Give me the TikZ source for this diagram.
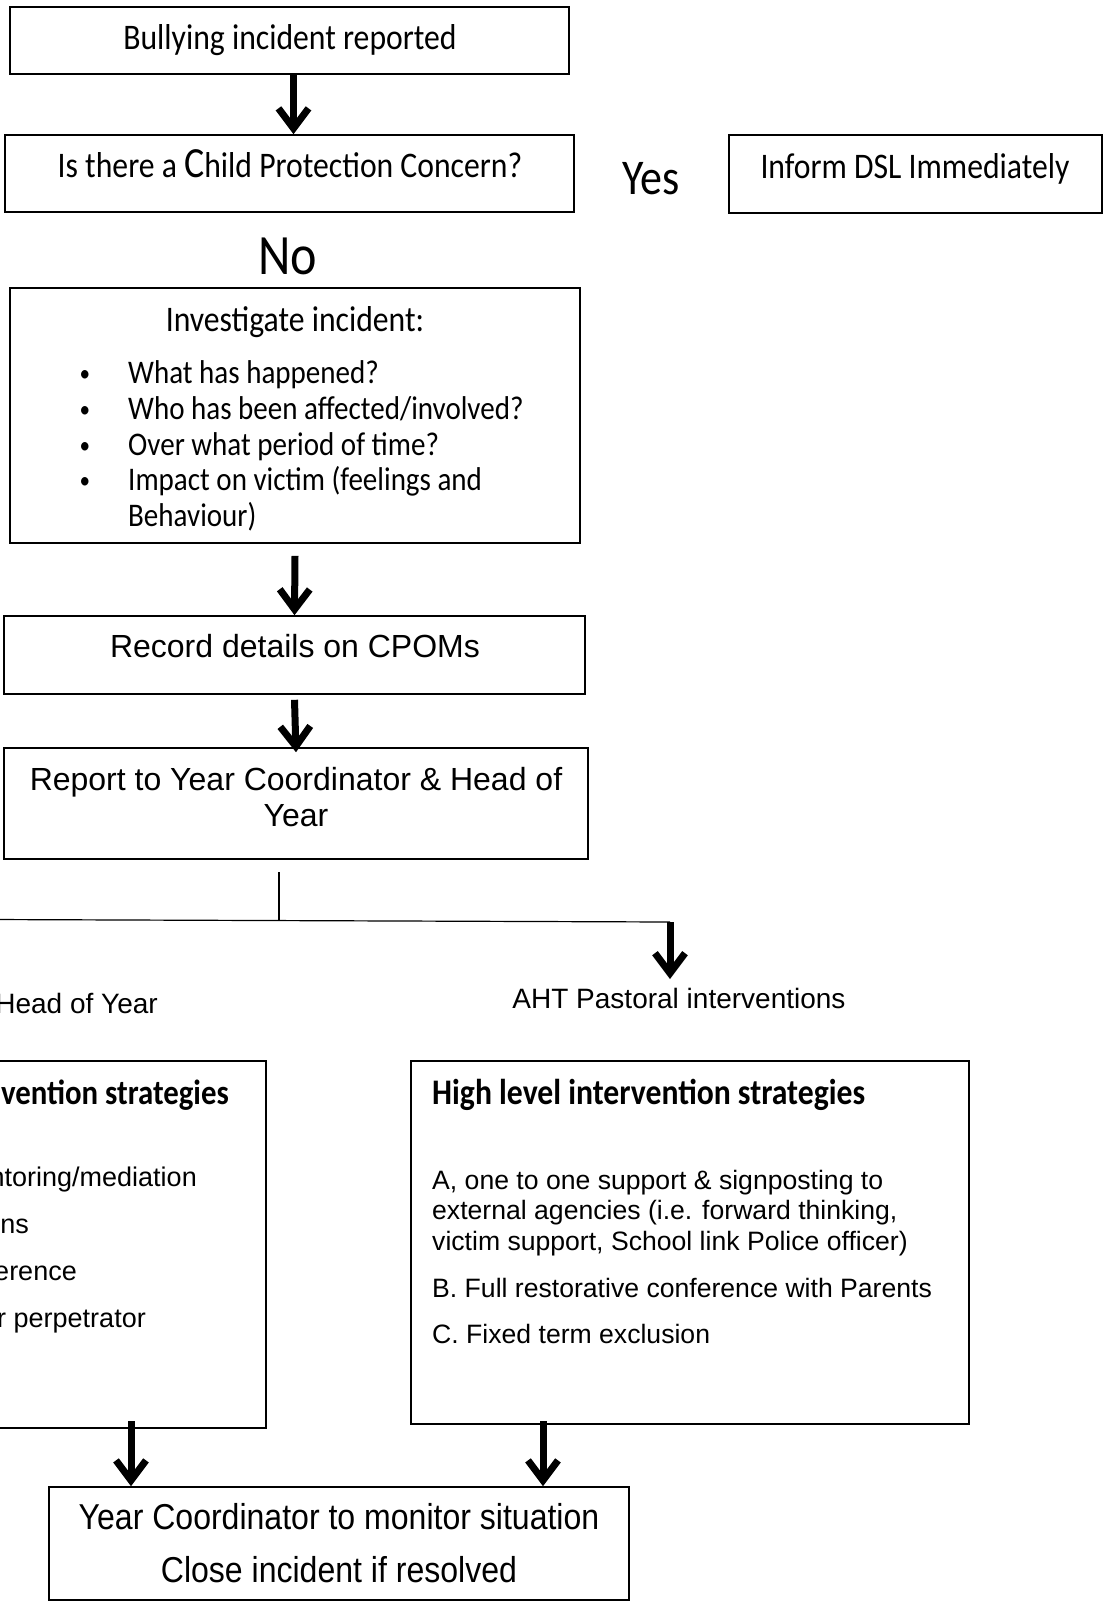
\documentclass[tikz,border=0pt]{standalone}
\usepackage{fontspec}
\usetikzlibrary{arrows.meta,calc}
\newfontfamily\calfont[FakeStretch=0.88]{Carlito}
\newfontfamily\ari{Liberation Sans}
\newfontfamily\arin[FakeStretch=0.89]{Liberation Sans}
\newcommand\fsz[1]{\fontsize{#1}{#1}\selectfont}
\tikzset{
  box/.style={draw=black, line width=1.6pt, rectangle, inner sep=0pt},
  bigarrow/.style={line width=7pt, -{Straight Barb[length=20pt,width=30pt]}},
  branchline/.style={line width=1.2pt, draw=black},
  txt/.style={inner sep=0pt},
}
\begin{document}
\begin{tikzpicture}[x=1pt,y=-1pt]
\useasboundingbox (0,0) rectangle (1109,1603);
\clip (0,0) rectangle (1109,1603);
\fill[white] (0,0) rectangle (1109,1603);

% top boxes
\node[box, minimum width=559pt, minimum height=67pt] (b1) at (289.5,40.5) {};
\node[txt, anchor=base, font=\calfont\fsz{36}] (t1) at (290,50) {Bullying incident reported};
\node[box, minimum width=569pt, minimum height=77pt] (b2) at (289.5,173.5) {};
\node[txt, anchor=base, font=\calfont\fsz{36}] (t2) at (290,177.6) {Is there a {\fsz{43}C}hild Protection Concern?};
\node[txt, anchor=base, font=\calfont\fsz{50}] (yes) at (651,194) {Yes};
\node[box, line width=1.2pt, minimum width=373pt, minimum height=78pt] (b3) at (915.5,174) {};
\node[txt, anchor=base, font=\calfont\fsz{36}] (t3) at (915,178.6) {Inform DSL Immediately};
\node[txt, anchor=base, font=\calfont\fsz{57}] (no) at (288,274.5) {No};
\draw[bigarrow] ([xshift=4pt]b1.south) -- ([xshift=4pt]b1.south |- b2.north);

% investigate
\node[box, minimum width=570pt, minimum height=255pt] (b4) at (295,415.5) {};
\node[txt, anchor=base, font=\calfont\fsz{36}] (t4) at (295,331) {Investigate incident:};
\foreach \yy in {381,417,453,488} {
  \node[txt, anchor=base, font=\calfont\fsz{24}] at (85,\yy) {•};
}
\node[txt, anchor=base west, font=\calfont\fsz{33}] (i1) at (128,383) {What has happened?};
\node[txt, anchor=base west, font=\calfont\fsz{33}] (i2) at (128,419) {Who has been affected/involved?};
\node[txt, anchor=base west, font=\calfont\fsz{33}] (i3) at (128,455) {Over what period of time?};
\node[txt, anchor=base west, font=\calfont\fsz{33}] (i4) at (128,490) {Impact on victim (feelings and};
\node[txt, anchor=base west, font=\calfont\fsz{33}] (i5) at (128,526) {Behaviour)};

% record
\node[box, minimum width=581pt, minimum height=78pt] (b5) at (294.5,655) {};
\node[txt, anchor=base, font=\ari\fsz{32}] (t5) at (295,657.5) {Record details on CPOMs};
\draw[bigarrow] ([yshift=-12pt]b4.south) -- (b5.north);

% report
\node[box, minimum width=584pt, minimum height=111pt] (b6) at (296,803.5) {};
\node[txt, anchor=base, font=\ari\fsz{32}] (t6a) at (296,790.5) {Report to Year Coordinator \& Head of};
\node[txt, anchor=base, font=\ari\fsz{32}] (t6b) at (296,826.5) {Year};
\draw[bigarrow] ([yshift=-5pt]b5.south) -- ([yshift=-5pt]b6.north);

% branch
\coordinate (vtop) at (279,872);
\coordinate (fork) at (279,921);
\coordinate (lend) at (-10,919.5);
\coordinate (rend) at (670,922);
\coordinate (ahttip) at (670,979);
\draw[branchline] (vtop) -- (fork);
\draw[branchline] (lend) -- (rend);
\draw[bigarrow] (rend) -- (ahttip);
\node[txt, anchor=base, font=\ari\fsz{28}] (aht) at (679,1008) {AHT Pastoral interventions};
\node[txt, anchor=base east, font=\ari\fsz{28}] (hoy) at (158,1013) {Head of Year};

% low level box (cut off)
\node[box, minimum width=566pt, minimum height=367pt] (lowbox) at (-17,1244.5) {};
\node[txt, anchor=base east, font=\calfont\bfseries\fsz{35}] (l0) at (229,1104) {vention strategies};
\node[txt, anchor=base east, font=\ari\fsz{27}] (l1) at (197,1186.5) {ntoring/mediation};
\node[txt, anchor=base east, font=\ari\fsz{27}] (l2) at (29,1233.5) {ns};
\node[txt, anchor=base east, font=\ari\fsz{27}] (l3) at (77,1280.5) {erence};
\node[txt, anchor=base east, font=\ari\fsz{27}] (l4) at (146,1327.5) {r perpetrator};

% high level box
\node[box, minimum width=558pt, minimum height=363pt] (highbox) at (690,1242.5) {};
\node[txt, anchor=base west, font=\calfont\bfseries\fsz{36}] (h0) at (432,1104) {High level intervention strategies};
\node[txt, anchor=base west, font=\ari\fsz{26.6}] (h1) at (432,1189.5) {A, one to one support \& signposting to};
\node[txt, anchor=base west, font=\ari\fsz{26.6}] (h2) at (432,1219.5) {external agencies (i.e. forward thinking,};
\node[txt, anchor=base west, font=\ari\fsz{26.6}] (h3) at (432,1250.5) {victim support, School link Police officer)};
\node[txt, anchor=base west, font=\ari\fsz{26.6}] (h4) at (432,1297.5) {B. Full restorative conference with Parents};
\node[txt, anchor=base west, font=\ari\fsz{26.6}] (h5) at (432,1343.5) {C. Fixed term exclusion};

% final
\node[box, minimum width=580pt, minimum height=113pt] (final) at (339,1543.5) {};
\node[txt, anchor=base, font=\arin\fsz{36}] (f1) at (339,1529) {Year Coordinator to monitor situation};
\node[txt, anchor=base, font=\arin\fsz{36}] (f2) at (339,1582) {Close incident if resolved};
\coordinate (la) at (131,1421);
\coordinate (ra) at (543,1421);
\draw[bigarrow] (la) -- (la |- final.north);
\draw[bigarrow] (ra) -- (ra |- final.north);
\end{tikzpicture}
\end{document}
